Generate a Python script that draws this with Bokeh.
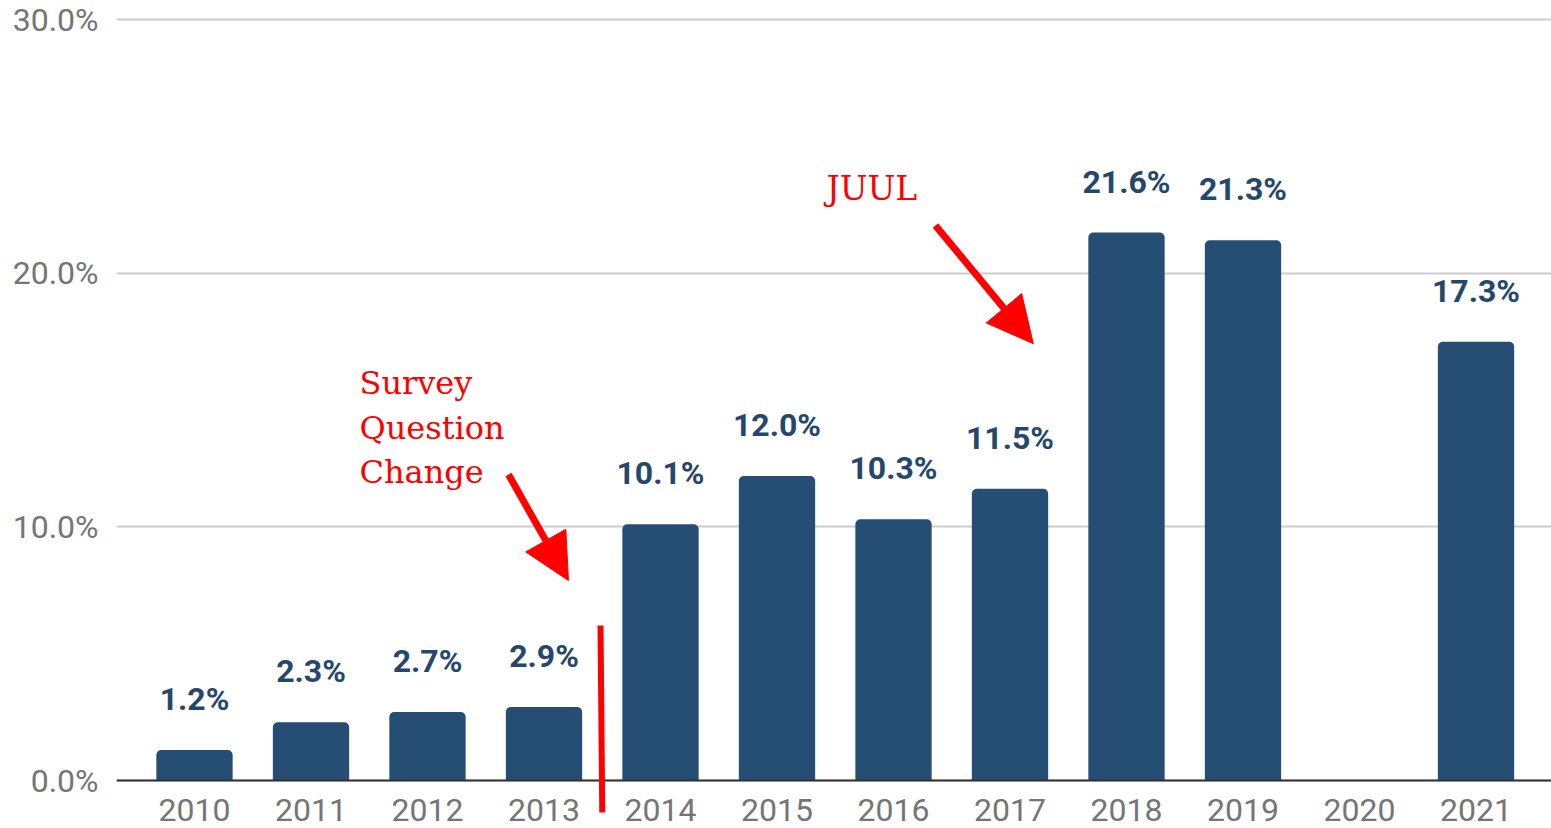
from bokeh.plotting import figure
from bokeh.models import (Range1d, FixedTicker, PrintfTickFormatter, ColumnDataSource,
                          Label, Arrow, NormalHead, Span)
from bokeh.core.properties import value
from bokeh.embed import file_html
from bokeh.resources import INLINE

# ---- data ----
years = ["2010", "2011", "2012", "2013", "2014", "2015", "2016", "2017", "2018", "2019", "2020", "2021"]
rates = [1.2, 2.3, 2.7, 2.9, 10.1, 12.0, 10.3, 11.5, 21.6, 21.3, float("nan"), 17.3]
labels = ["" if r != r else f"{r:.1f}%" for r in rates]
y_ticks = [0, 10, 20, 30]
note_lines = ["Survey", "Question", "Change"]
note_juul = "JUUL"

BAR = "#264d73"
LBL = "#26476a"
GRAY = "#757575"
RED = "#ff0000"

idx = list(range(len(years)))
src = ColumnDataSource(dict(x=idx, top=rates, label=labels))

p = figure(width=1551, height=828, output_backend="svg", toolbar_location=None,
           x_range=Range1d(-0.6695, 11.648), y_range=Range1d(-1.892, 30.079),
           min_border_left=116, min_border_right=0, min_border_top=17, min_border_bottom=0)
p.outline_line_color = None
p.background_fill_color = "white"
p.border_fill_color = "white"

p.vbar(x="x", top="top", width=0.655, bottom=0, source=src, fill_color=BAR, line_color=None,
       border_radius=(5, 5, 0, 0))
p.text(x="x", y="top", text="label", source=src, text_align="center", text_baseline="alphabetic",
       y_offset=-51, text_font=value("Roboto"), text_font_style="bold", text_font_size="32px",
       text_color=LBL)

# axes
p.xaxis.ticker = FixedTicker(ticks=idx)
p.xaxis.major_label_overrides = {i: y for i, y in enumerate(years)}
p.xaxis.axis_line_color = None
p.xaxis.major_tick_line_color = None
p.xaxis.minor_tick_line_color = None
p.xaxis.major_tick_out = 0
p.xaxis.major_tick_in = 0
p.xaxis.major_label_standoff = -30
p.xaxis.major_label_text_font = "Roboto"
p.xaxis.major_label_text_font_size = "32px"
p.xaxis.major_label_text_color = GRAY

p.yaxis.ticker = FixedTicker(ticks=y_ticks)
p.yaxis.formatter = PrintfTickFormatter(format="%.1f%%")
p.yaxis.axis_line_color = None
p.yaxis.major_tick_line_color = None
p.yaxis.minor_tick_line_color = None
p.yaxis.major_tick_out = 0
p.yaxis.major_label_standoff = 18
p.yaxis.major_label_text_font = "Roboto"
p.yaxis.major_label_text_font_size = "32px"
p.yaxis.major_label_text_color = GRAY

p.xgrid.grid_line_color = None
p.ygrid.ticker = FixedTicker(ticks=y_ticks)
p.ygrid.grid_line_color = "#cccccc"
p.ygrid.grid_line_width = 2

p.add_layout(Span(location=0, dimension="width", line_color="#333333", line_width=2))

# annotations
for line, yb in zip(note_lines, [15.66, 13.89, 12.16]):
    p.add_layout(Label(x=1.416, y=yb, text=line, text_font="DejaVu Serif", text_font_size="32px",
                       text_color=RED, text_baseline="alphabetic"))
p.add_layout(Label(x=5.425, y=23.35, text=note_juul, text_font="DejaVu Serif", text_font_size="33px",
                   text_color=RED, text_baseline="alphabetic"))

head = dict(size=46, fill_color=RED, line_color=RED)
p.add_layout(Arrow(x_start=2.695, y_start=12.06, x_end=3.21, y_end=7.88, line_color=RED, line_width=7,
                   end=NormalHead(**head)))
p.add_layout(Arrow(x_start=6.36, y_start=21.88, x_end=7.20, y_end=17.22, line_color=RED, line_width=7,
                   end=NormalHead(**head)))
p.add_layout(Arrow(x_start=3.485, y_start=6.11, x_end=3.50, y_end=-1.26, line_color=RED, line_width=6,
                   end=None))

open("out.html", "w").write(file_html(p, INLINE))
